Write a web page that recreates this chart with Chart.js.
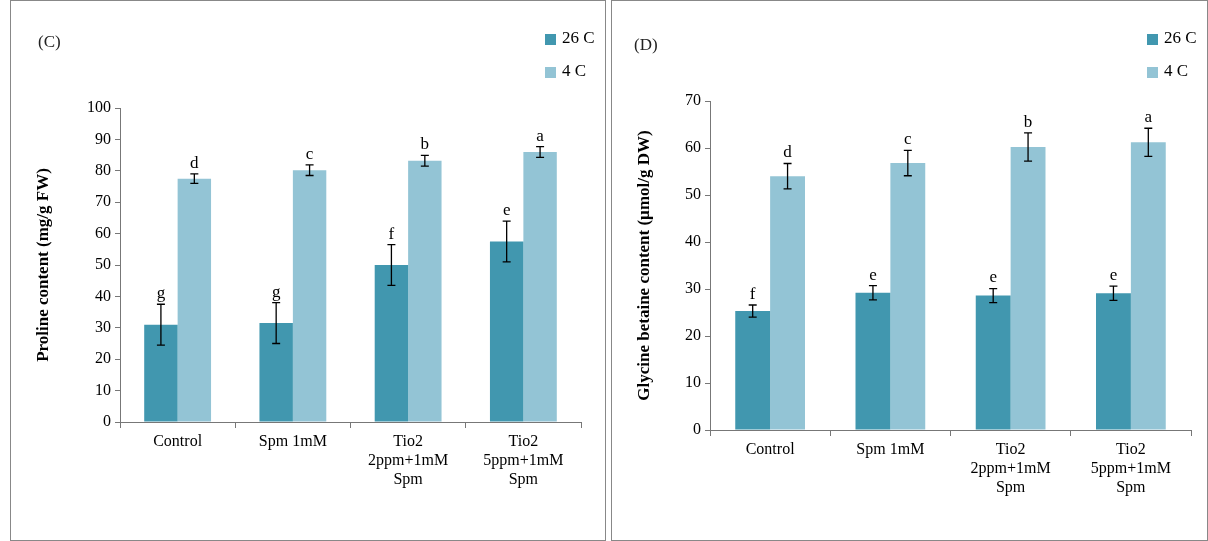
<!DOCTYPE html>
<html><head><meta charset="utf-8">
<script src="https://cdn.jsdelivr.net/npm/chart.js@4"></script>
<style>
body{margin:0;background:#fff;width:1208px;height:541px;position:relative;overflow:hidden;font-family:"Liberation Serif",serif}
.box{position:absolute;top:0;height:541px;border:1px solid #888;box-sizing:border-box}
.lab{position:absolute;font-size:17px;color:#222}
</style></head><body>
<div class="box" style="left:10px;width:596px"><canvas id="c1" width="594" height="539"></canvas></div>
<div class="box" style="left:611px;width:597px"><canvas id="c2" width="595" height="539"></canvas></div>
<div class="lab" style="left:38px;top:32px">(C)</div>
<div class="lab" style="left:634px;top:35px">(D)</div>
<script>
const categories = [['Control'], ['Spm 1mM'], ['Tio2', '2ppm+1mM', 'Spm'], ['Tio2', '5ppm+1mM', 'Spm']];
const seriesNames = ['26 C', '4 C'];
const colors = ['#4197af', '#93c4d5'];

// panel C: proline
const prolineWarm = [31, 31.5, 50, 57.5];
const prolineWarmErr = [6.5, 6.5, 6.5, 6.5];
const prolineCold = [77.5, 80.2, 83.2, 86];
const prolineColdErr = [1.5, 1.7, 1.7, 1.7];
const prolineWarmLetters = ['g', 'g', 'f', 'e'];
const prolineColdLetters = ['d', 'c', 'b', 'a'];

// panel D: glycine betaine
const gbWarm = [25.3, 29.2, 28.6, 29.1];
const gbWarmErr = [1.3, 1.5, 1.5, 1.5];
const gbCold = [54, 56.8, 60.2, 61.2];
const gbColdErr = [2.7, 2.7, 3, 3];
const gbWarmLetters = ['f', 'e', 'e', 'e'];
const gbColdLetters = ['d', 'c', 'b', 'a'];

const serif = '"Liberation Serif", "DejaVu Serif", serif';

// error bars + letters
const extras = {
  id: 'extras',
  afterDatasetsDraw(chart) {
    const ctx = chart.ctx, y = chart.scales.y;
    ctx.save();
    chart.data.datasets.forEach((ds, i) => {
      chart.getDatasetMeta(i).data.forEach((bar, j) => {
        const v = ds.data[j], e = ds.err[j];
        const top = y.getPixelForValue(v + e), bot = y.getPixelForValue(v - e);
        ctx.strokeStyle = '#000'; ctx.lineWidth = 1.3;
        ctx.beginPath();
        ctx.moveTo(bar.x, top); ctx.lineTo(bar.x, bot);
        ctx.moveTo(bar.x - 4, top); ctx.lineTo(bar.x + 4, top);
        ctx.moveTo(bar.x - 4, bot); ctx.lineTo(bar.x + 4, bot);
        ctx.stroke();
        ctx.fillStyle = '#000'; ctx.font = '17px ' + serif;
        ctx.textAlign = 'center'; ctx.textBaseline = 'bottom';
        ctx.fillText(ds.letters[j], bar.x, top - 2);
      });
    });
    // legend
    const lx = chart.width - 60;
    chart.data.datasets.forEach((ds, i) => {
      const ly = 38 + i * 33;
      ctx.fillStyle = ds.backgroundColor;
      ctx.fillRect(lx, ly - 5, 11, 11);
      ctx.fillStyle = '#000'; ctx.font = '17px ' + serif;
      ctx.textAlign = 'left'; ctx.textBaseline = 'middle';
      ctx.fillText(ds.label, lx + 17, ly);
    });
    ctx.restore();
  }
};

function makeChart(id, warm, warmErr, warmL, cold, coldErr, coldL, max, yTitle, padLeft, yW, xH, padTop, padRight) {
  new Chart(document.getElementById(id), {
    type: 'bar',
    data: {
      labels: categories,
      datasets: [
        { label: seriesNames[0], data: warm, err: warmErr, letters: warmL, backgroundColor: colors[0] },
        { label: seriesNames[1], data: cold, err: coldErr, letters: coldL, backgroundColor: colors[1] }
      ]
    },
    options: {
      responsive: false,
      animation: false,
      layout: { padding: { top: padTop, right: padRight, left: padLeft, bottom: 0 } },
      datasets: { bar: { categoryPercentage: 0.58, barPercentage: 1 } },
      plugins: { legend: { display: false }, tooltip: { enabled: false } },
      scales: {
        x: {
          afterFit(s) { s.height = xH; },
          border: { color: '#777' },
          grid: { drawOnChartArea: false, tickLength: 6, color: '#777' },
          ticks: { color: '#000', font: { family: serif, size: 16 }, padding: 4 }
        },
        y: {
          min: 0, max: max,
          afterFit(s) { s.width = yW; },
          border: { color: '#777' },
          grid: { drawOnChartArea: false, tickLength: 5, color: '#777' },
          ticks: { stepSize: 10, color: '#000', font: { family: serif, size: 16 }, padding: 4 },
          title: { display: true, text: yTitle, color: '#000', font: { family: serif, size: 17, weight: 'bold' } }
        }
      }
    },
    plugins: [extras]
  });
}

makeChart('c1', prolineWarm, prolineWarmErr, prolineWarmLetters, prolineCold, prolineColdErr, prolineColdLetters,
  100, 'Proline content (mg/g FW)', 18, 91, 118, 107, 24);
makeChart('c2', gbWarm, gbWarmErr, gbWarmLetters, gbCold, gbColdErr, gbColdLetters,
  70, 'Glycine betaine content (µmol/g DW)', 18, 80, 110, 100, 16);
</script>
</body></html>
